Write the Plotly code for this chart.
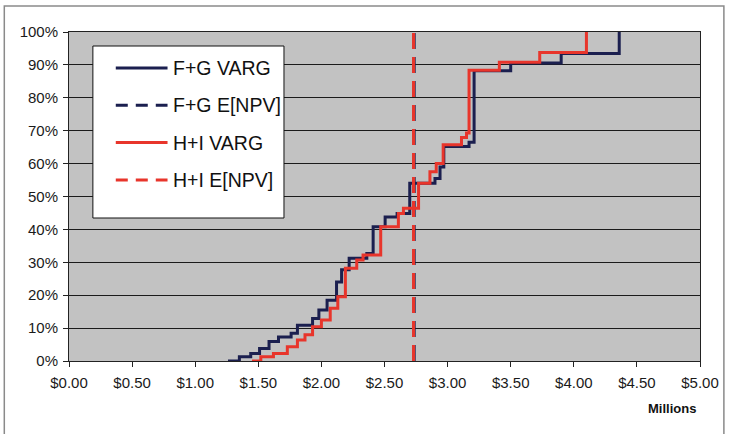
import plotly.graph_objects as go

# Cumulative probability of NPV (millions of dollars) for two portfolio options
fg_npv = [1.26, 1.35, 1.44, 1.51, 1.585, 1.66, 1.76, 1.81, 1.93, 1.98, 2.045, 2.12, 2.16, 2.22,
          2.36, 2.41, 2.505, 2.60, 2.70, 2.90, 2.94, 2.97, 3.17, 3.21, 3.50, 3.90, 4.36]
fg_cum = [0, 1.3, 2.3, 3.8, 5.9, 7.3, 8.4, 10.9, 12.9, 15.5, 18.5, 24.0, 27.7, 31.2,
          32.7, 40.8, 43.8, 44.8, 54.0, 55.5, 59.0, 65.2, 66.5, 88.2, 90.6, 93.5, 100]

hi_npv = [1.45, 1.52, 1.62, 1.73, 1.81, 1.87, 1.93, 2.00, 2.07, 2.13, 2.19, 2.28, 2.33,
          2.47, 2.61, 2.65, 2.77, 2.86, 2.91, 2.965, 3.11, 3.15, 3.17, 3.41, 3.73, 4.10]
hi_cum = [0, 1.3, 2.3, 4.3, 6.4, 8.0, 10.4, 12.5, 16.0, 19.5, 28.2, 30.7, 32.2,
          40.8, 44.8, 46.4, 54.0, 57.5, 60.0, 65.7, 67.9, 69.3, 88.4, 90.8, 93.8, 100]

# Expected NPV of each option
fg_expected = 2.735
hi_expected = 2.73

series_names = ["F+G VARG", "F+G E[NPV]", "H+I VARG", "H+I E[NPV]"]

x_ticks = [0, 0.5, 1, 1.5, 2, 2.5, 3, 3.5, 4, 4.5, 5]
x_tick_text = ["$0.00", "$0.50", "$1.00", "$1.50", "$2.00", "$2.50",
               "$3.00", "$3.50", "$4.00", "$4.50", "$5.00"]
y_ticks = [0, 10, 20, 30, 40, 50, 60, 70, 80, 90, 100]
y_tick_text = ["0%", "10%", "20%", "30%", "40%", "50%", "60%", "70%", "80%", "90%", "100%"]

NAVY = "#1b1f4f"
RED = "#e8352b"
FONT = "Liberation Sans, Arial, sans-serif"

fig = go.Figure()
fig.add_trace(go.Scatter(x=fg_npv, y=fg_cum, mode="lines", line=dict(color=NAVY, width=3, shape="hv"),
                         name=series_names[0], showlegend=False))
fig.add_trace(go.Scatter(x=[fg_expected, fg_expected], y=[0, 100], mode="lines",
                         line=dict(color=NAVY, width=3, dash="16px,8px"),
                         name=series_names[1], showlegend=False))
fig.add_trace(go.Scatter(x=hi_npv, y=hi_cum, mode="lines", line=dict(color=RED, width=3, shape="hv"),
                         name=series_names[2], showlegend=False))
fig.add_trace(go.Scatter(x=[hi_expected, hi_expected], y=[0, 100], mode="lines",
                         line=dict(color=RED, width=3, dash="16px,8px"),
                         name=series_names[3], showlegend=False))

# Plot-area pixel geometry used to place the legend box and chart frame
L, R, T, B = 69, 703, 32, 361
W, H = R - L, B - T


def px(xp):
    return (xp - L) / W


def py(yp):
    return (B - yp) / H


shapes = [
    # outer chart frame
    dict(type="rect", xref="paper", yref="paper", x0=px(4), x1=px(727), y0=py(440), y1=py(6),
         line=dict(color="#8a8a8a", width=1.5), fillcolor="rgba(0,0,0,0)", layer="below"),
    # legend box
    dict(type="rect", xref="paper", yref="paper", x0=px(93), x1=px(285), y0=py(218), y1=py(46),
         line=dict(color="#111111", width=1), fillcolor="white", layer="above"),
]
annotations = []
legend_styles = [(NAVY, "solid"), (NAVY, "dash"), (RED, "solid"), (RED, "dash")]
for i, (name, (col, dash)) in enumerate(zip(series_names, legend_styles)):
    yy = 68 + i * 37.3
    shapes.append(dict(type="line", xref="paper", yref="paper", x0=px(116), x1=px(168),
                       y0=py(yy), y1=py(yy), line=dict(color=col, width=3,
                       dash="12px,8px" if dash == "dash" else "solid"), layer="above"))
    annotations.append(dict(xref="paper", yref="paper", x=px(171), y=py(yy), text=name,
                            showarrow=False, xanchor="left", yanchor="middle",
                            font=dict(family=FONT, size=19.5, color="#111111")))

annotations.append(dict(xref="paper", yref="paper", x=px(675), y=py(408), text="<b>Millions</b>",
                        showarrow=False, xanchor="center", yanchor="middle",
                        font=dict(family=FONT, size=13, color="#111111")))

fig.update_layout(
    width=731, height=434,
    margin=dict(l=L, r=731 - R, t=T, b=434 - B),
    paper_bgcolor="white",
    plot_bgcolor="#c2c2c2",
    font=dict(family=FONT, size=15, color="#1a1a1a"),
    shapes=shapes,
    annotations=annotations,
    showlegend=False,
    xaxis=dict(range=[0, 5], tickvals=x_ticks, ticktext=x_tick_text, showgrid=False,
               zeroline=False, showline=True, linecolor="#222222", linewidth=1, mirror=True,
               ticks="outside", ticklen=5, tickcolor="#222222", ticklabelstandoff=3,
               fixedrange=True),
    yaxis=dict(range=[0, 100], tickvals=y_ticks, ticktext=y_tick_text, showgrid=True,
               gridcolor="#1a1a1a", gridwidth=1, zeroline=False, showline=True,
               linecolor="#222222", linewidth=1, mirror=True, ticks="outside", ticklen=5,
               tickcolor="#222222", ticklabelstandoff=2, fixedrange=True),
)

fig.write_html("out.html")
